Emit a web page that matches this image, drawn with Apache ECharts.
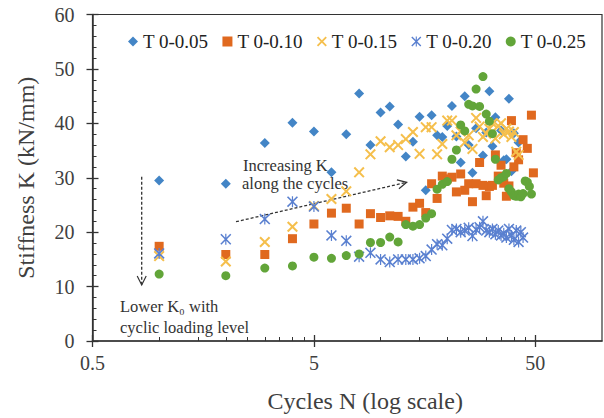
<!DOCTYPE html>
<html>
<head>
<meta charset="utf-8">
<script src="https://cdn.jsdelivr.net/npm/echarts@6/dist/echarts.min.js"></script>
<style>
  html, body { margin: 0; padding: 0; background: #fff; }
  #chart { width: 604px; height: 418px; }
</style>
</head>
<body>
<div id="chart"></div>
<script>
// cycles N and stiffness K (kN/mm), one pair of arrays per loading level
var n005 = [1, 2, 3, 4, 5, 6, 7, 8, 9, 10, 11, 12, 13, 14, 15, 16, 17, 18, 19, 20,
  21, 22, 23, 24, 25, 26, 27, 29, 30, 31, 32, 33, 35, 36, 37, 38, 39, 40, 42];
var k005 = [29.5, 28.9, 36.4, 40.1, 38.5, 31.0, 38.0, 45.5, 36.0, 42.0, 43.1, 39.8, 33.9, 36.6, 41.2, 27.7, 41.5, 37.8, 37.5, 39.5,
  43.2, 37.6, 32.8, 45.0, 36.0, 30.9, 39.1, 34.1, 38.3, 45.9, 35.8, 41.1, 38.7, 33.2, 33.4, 44.5, 31.2, 38.2, 36.5];

var n010 = [1, 2, 3, 4, 5, 6, 7, 8, 9, 10, 11, 12, 13, 14, 15, 16, 17, 18, 19, 20,
  21, 22, 23, 24, 25, 26, 27, 28, 29, 30, 31, 32, 33, 34, 35, 36, 37, 38, 39, 40,
  41, 42, 44, 46, 48, 49];
var k010 = [17.4, 15.9, 15.9, 18.8, 21.5, 23.5, 24.4, 21.5, 23.4, 22.7, 23.0, 22.9, 22.0, 24.6, 25.3, 23.6, 28.9, 26.2, 30.3, 29.8,
  30.1, 27.4, 30.7, 27.7, 28.9, 25.6, 28.9, 32.8, 28.6, 26.7, 28.4, 28.6, 34.2, 30.3, 32.3, 29.0, 26.6, 28.5, 40.5, 32.0,
  34.6, 33.3, 37.0, 35.4, 41.5, 30.9];

var n015 = [1, 2, 3, 4, 5, 6, 7, 8, 9, 10, 11, 12, 13, 14, 15, 16, 17, 18, 19, 20,
  21, 22, 23, 24, 25, 26, 27, 28, 29, 30, 31, 32, 33, 34, 35, 36, 37, 38, 39, 40, 41, 42];
var k015 = [15.6, 14.6, 18.2, 21.0, 24.8, 26.1, 27.5, 31.0, 34.3, 36.7, 35.6, 36.0, 37.1, 38.4, 34.4, 39.3, 39.3, 34.3, 36.2, 40.5,
  40.5, 37.8, 38.5, 36.5, 37.8, 35.3, 41.0, 39.4, 37.5, 38.1, 39.0, 40.0, 37.2, 39.5, 40.0, 38.0, 39.0, 38.5, 37.5, 38.4, 34.8, 34.2];

var n020 = [1, 2, 3, 4, 5, 6, 7, 8, 9, 10, 11, 12, 13, 14, 15, 16, 17, 18, 19, 20,
  21, 22, 23, 24, 25, 26, 27, 28, 29, 30, 31, 32, 33, 34, 35, 36, 37, 38, 39, 40, 41, 42, 43, 44];
var k020 = [16.1, 18.7, 22.4, 25.6, 24.7, 19.4, 18.4, 15.5, 16.2, 15.0, 14.5, 15.0, 15.0, 15.0, 15.2, 15.6, 16.8, 17.8, 17.6, 18.8,
  20.4, 20.6, 20.0, 20.3, 20.8, 19.3, 20.5, 20.9, 22.0, 20.3, 20.0, 20.6, 19.6, 20.3, 19.4, 19.8, 19.0, 20.6, 19.4, 18.6,
  20.3, 18.2, 20.0, 19.0];

var n025 = [1, 2, 3, 4, 5, 6, 7, 8, 9, 10, 11, 12, 13, 14, 15, 16, 17, 18, 19, 20,
  21, 22, 23, 24, 25, 26, 27, 28, 29, 30, 31, 32, 33, 34, 35, 36, 37, 38, 39, 40,
  41, 42, 43, 44, 45, 46, 47, 48];
var k025 = [12.3, 12.0, 13.4, 13.8, 15.4, 15.2, 15.7, 16.0, 18.1, 18.1, 19.1, 18.2, 21.4, 21.1, 21.4, 22.6, 23.4, 27.9, 28.8, 29.3,
  33.4, 35.1, 39.7, 38.6, 43.5, 43.2, 46.3, 43.1, 48.6, 41.7, 40.4, 38.1, 33.4, 29.6, 30.0, 30.2, 30.8, 28.0, 27.4, 26.7,
  26.6, 27.0, 26.5, 27.1, 29.4, 29.2, 28.4, 27.0];

var seriesNames = ["T 0-0.05", "T 0-0.10", "T 0-0.15", "T 0-0.20", "T 0-0.25"];
var xMajorTicks = [0.5, 5, 50];
var xMinorTicks = [1, 1.5, 2, 2.5, 3, 3.5, 4, 4.5, 10, 15, 20, 25, 30, 35, 40, 45];

var font = "Liberation Serif";
var axisColor = "#333";
var textColor = "#404040";

// x mark and asterisk mark as filled outlines
var crossMark = "path://M0,1.3L1.3,0L5,3.7L8.7,0L10,1.3L6.3,5L10,8.7L8.7,10L5,6.3L1.3,10L0,8.7L3.7,5Z";
var starMark = "path://M0,1L1,0L5,4L9,0L10,1L6,5L10,9L9,10L5,6L1,10L0,9L4,5Z M4.45,0L5.55,0L5.55,10L4.45,10Z";

function pairs(n, k) {
  return n.map(function (v, i) {
    return [v, k[i]];
  });
}

function dashedArrow(x1, y1, x2, y2) {
  var dx = x2 - x1, dy = y2 - y1;
  var len = Math.sqrt(dx * dx + dy * dy);
  var ux = dx / len, uy = dy / len;
  var bx = x2 - ux * 9, by = y2 - uy * 9;
  var style = { stroke: "#333", lineWidth: 1.2, fill: null };
  return [
    { type: "line", shape: { x1: x1, y1: y1, x2: x2, y2: y2 },
      style: { stroke: "#333", lineWidth: 1.3, lineDash: [3, 2] } },
    { type: "polyline",
      shape: { points: [[bx - uy * 4.5, by + ux * 4.5], [x2, y2], [bx + uy * 4.5, by - ux * 4.5]] },
      style: style },
  ];
}

var chart = echarts.init(document.getElementById("chart"), null, { renderer: "svg" });

var logAxisBase = {
  type: "log",
  logBase: 10,
  min: 0.5,
  max: 100,
  position: "bottom",
  splitLine: { show: false },
};

var option = {
  animation: false,
  backgroundColor: "#fff",
  grid: {
    left: 92.5,
    right: 2,
    top: 14.5,
    bottom: 74.7,
    show: true,
    borderColor: axisColor,
    borderWidth: 1.2,
  },
  legend: {
    top: 27,
    left: 123,
    itemWidth: 10,
    itemHeight: 10,
    itemGap: 14,
    textStyle: { fontFamily: font, fontSize: 19, color: "#222" },
    data: seriesNames,
  },
  xAxis: [
    Object.assign({}, logAxisBase, {
      name: "Cycles N (log scale)",
      nameLocation: "middle",
      nameGap: 48,
      nameTextStyle: { fontFamily: font, fontSize: 24, color: textColor, padding: [0, 0, 0, 36] },
      axisLine: { show: true, lineStyle: { color: axisColor, width: 1.5 } },
      axisTick: { show: true, customValues: xMajorTicks, length: 6, lineStyle: { color: axisColor, width: 1.3 } },
      axisLabel: {
        customValues: xMajorTicks,
        margin: 12,
        fontFamily: font,
        fontSize: 20,
        color: textColor,
        formatter: function (v) { return String(v); },
      },
    }),
    Object.assign({}, logAxisBase, {
      axisLine: { show: false },
      axisLabel: { show: false },
      axisTick: { show: true, inside: true, customValues: xMajorTicks, length: 6, lineStyle: { color: axisColor, width: 1.3 } },
    }),
    Object.assign({}, logAxisBase, {
      axisLine: { show: false },
      axisLabel: { show: false },
      axisTick: { show: true, inside: true, customValues: xMinorTicks, length: 4, lineStyle: { color: axisColor, width: 1 } },
    }),
  ],
  yAxis: [
    {
      type: "value",
      min: 0,
      max: 60,
      interval: 10,
      position: "left",
      name: "Stiffness K (kN/mm)",
      nameLocation: "middle",
      nameGap: 55,
      nameTextStyle: { fontFamily: font, fontSize: 24, color: textColor },
      axisLine: { show: true, lineStyle: { color: axisColor, width: 1.5 } },
      axisTick: { show: true, length: 6, lineStyle: { color: axisColor, width: 1.3 } },
      axisLabel: { margin: 18, fontFamily: font, fontSize: 20, color: textColor },
      splitLine: { show: false },
    },
    {
      type: "value",
      min: 0,
      max: 60,
      interval: 10,
      position: "left",
      axisLine: { show: false },
      axisLabel: { show: false },
      axisTick: { show: true, inside: true, length: 6, lineStyle: { color: axisColor, width: 1.3 } },
      minorTick: { show: true, splitNumber: 5, length: 4, lineStyle: { color: axisColor, width: 1 } },
      splitLine: { show: false },
    },
  ],
  series: [
    { name: seriesNames[0], type: "scatter", symbol: "diamond", symbolSize: 10,
      itemStyle: { color: "#4385c6", opacity: 1 }, data: pairs(n005, k005) },
    { name: seriesNames[1], type: "scatter", symbol: "rect", symbolSize: 9,
      itemStyle: { color: "#e0691f", opacity: 1 }, data: pairs(n010, k010) },
    { name: seriesNames[2], type: "scatter", symbol: crossMark, symbolSize: 11,
      itemStyle: { color: "#f5bf4c", opacity: 1 }, data: pairs(n015, k015) },
    { name: seriesNames[3], type: "scatter", symbol: starMark, symbolSize: 11,
      itemStyle: { color: "#5a80d0", opacity: 1 }, data: pairs(n020, k020) },
    { name: seriesNames[4], type: "scatter", symbol: "circle", symbolSize: 9,
      itemStyle: { color: "#62a539", opacity: 1 }, data: pairs(n025, k025) },
  ],
  graphic: [
    { type: "text", x: 243, y: 165,
      style: { text: "Increasing K", font: '16.5px "Liberation Serif"', fill: "#333", verticalAlign: "middle" } },
    { type: "text", x: 242, y: 183.5,
      style: { text: "along the cycles", font: '16.5px "Liberation Serif"', fill: "#333", verticalAlign: "middle" } },
    { type: "text", x: 120, y: 306,
      style: { text: "Lower K\u2080 with", font: '16.5px "Liberation Serif"', fill: "#333", verticalAlign: "middle" } },
    { type: "text", x: 120, y: 327,
      style: { text: "cyclic loading level", font: '16.5px "Liberation Serif"', fill: "#333", verticalAlign: "middle" } },
  ]
    .concat(dashedArrow(236, 221.7, 406.7, 182.3))
    .concat(dashedArrow(141.7, 176.7, 141.7, 285)),
};

chart.setOption(option);
</script>
</body>
</html>
